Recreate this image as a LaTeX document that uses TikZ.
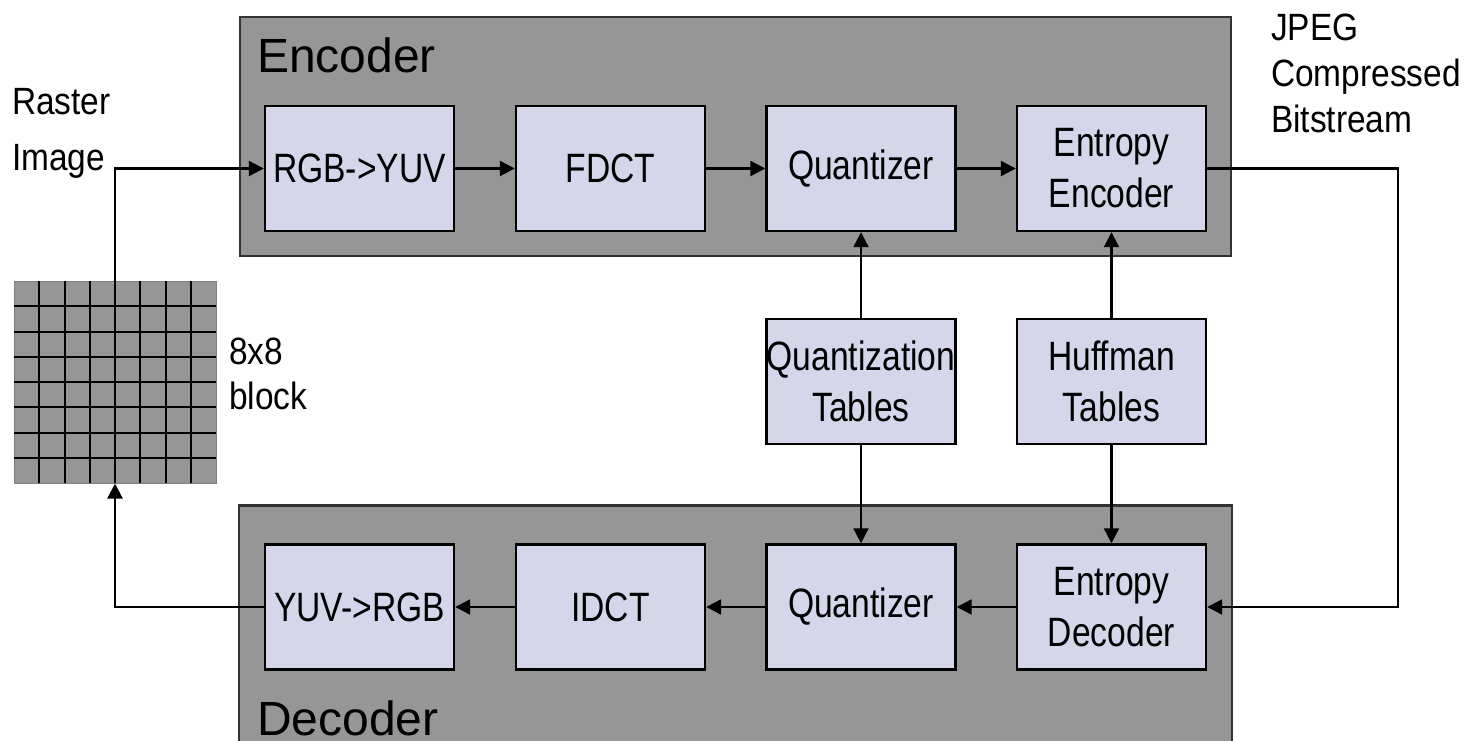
\documentclass[tikz,border=0pt]{standalone}
\usepackage{fontspec}
\setmainfont{Liberation Sans}
\newfontfamily\boxfont[FakeStretch=0.82]{Liberation Sans}
\newfontfamily\labelfont[FakeStretch=0.88]{Liberation Sans}
\usetikzlibrary{arrows.meta}
\definecolor{panelgray}{RGB}{150,150,150}
\definecolor{stagefill}{RGB}{214,214,234}
\definecolor{paneledge}{RGB}{50,50,50}
\begin{document}
\begin{tikzpicture}[x=1pt,y=-1pt,
  panel/.style={line width=2.2pt, fill=panelgray, inner sep=0,
    minimum width=991, minimum height=239},
  stage/.style={draw=black, line width=2.4pt, fill=stagefill, inner sep=0,
    minimum width=189, minimum height=125, align=center,
    font=\boxfont\fontsize{41}{51}\selectfont},
  flow/.style={line width=2.2pt, -{Triangle[length=15pt,width=15pt]}},
  panellabel/.style={anchor=base west, inner sep=0,
    font=\fontsize{48}{58}\selectfont},
  sidelabel/.style={anchor=north west, inner sep=0, align=left}
]
\useasboundingbox (0,0) rectangle (1476,741);

% encoder and decoder panels
\node[panel, draw=paneledge] (encpanel) at (735.5,136.5) {};
\node[panel] (decpanel) at (735.5,626) {};
\draw[line width=2.2pt, draw=paneledge] (decpanel.south west) -- (decpanel.north west)
  -- (decpanel.north east) -- (decpanel.south east);
\node[panellabel] (enclabel) at (257,73) {Encoder};
\node[panellabel] (declabel) at (257,735) {Decoder};

% encoder stages
\node[stage] (rgb)  at (359.5,168.5) {RGB->YUV};
\node[stage] (fdct) at (610.5,168.5) {FDCT};
\node[stage] (qenc) at (861,168.5) {Quantizer};
\node[stage] (eenc) at (1111.5,168.5) {Entropy\\Encoder};

% shared tables
\node[stage] (qtab) at (861,381.5) {Quantization\\Tables};
\node[stage] (htab) at (1111.5,381.5) {Huffman\\Tables};

% decoder stages
\node[stage] (yuv)  at (359.5,607) {YUV->RGB};
\node[stage] (idct) at (610.5,607) {IDCT};
\node[stage] (qdec) at (861,607) {Quantizer};
\node[stage] (edec) at (1111.5,607) {Entropy\\Decoder};

% 8x8 pixel block
\node[inner sep=0, minimum size=202, fill=panelgray, draw=gray, line width=1pt] (blk) at (115,382) {};
\foreach \i in {1,...,7} {
  \draw[line width=2pt] (14+\i*25.25,281) -- (14+\i*25.25,483);
  \draw[line width=2pt] (14,281+\i*25.25) -- (216,281+\i*25.25);
}

% outside labels
\node[sidelabel, font=\labelfont\fontsize{38}{56}\selectfont] (raster) at (12,88) {Raster\\Image};
\node[sidelabel, font=\labelfont\fontsize{38}{45}\selectfont] (blklabel) at (229,338) {8x8\\block};
\node[sidelabel, font=\labelfont\fontsize{38}{46}\selectfont] (jpeg) at (1271,14) {JPEG\\Compressed\\Bitstream};

% encoder data path
\draw[flow] (blk.north) |- (rgb.west);
\draw[flow] (rgb) -- (fdct);
\draw[flow] (fdct) -- (qenc);
\draw[flow] (qenc) -- (eenc);

% tables feed both sides
\draw[flow] (qtab) -- (qenc);
\draw[flow] (htab) -- (eenc);
\draw[flow] (qtab) -- (qdec);
\draw[flow] (htab) -- (edec);

% bitstream loop to the decoder
\coordinate (loop) at (1398,388);
\draw[flow] (eenc.east) -| (loop) |- (edec.east);

% decoder data path
\draw[flow] (edec) -- (qdec);
\draw[flow] (qdec) -- (idct);
\draw[flow] (idct) -- (yuv);
\draw[flow] (yuv.west) -| (blk.south);
\end{tikzpicture}
\end{document}
